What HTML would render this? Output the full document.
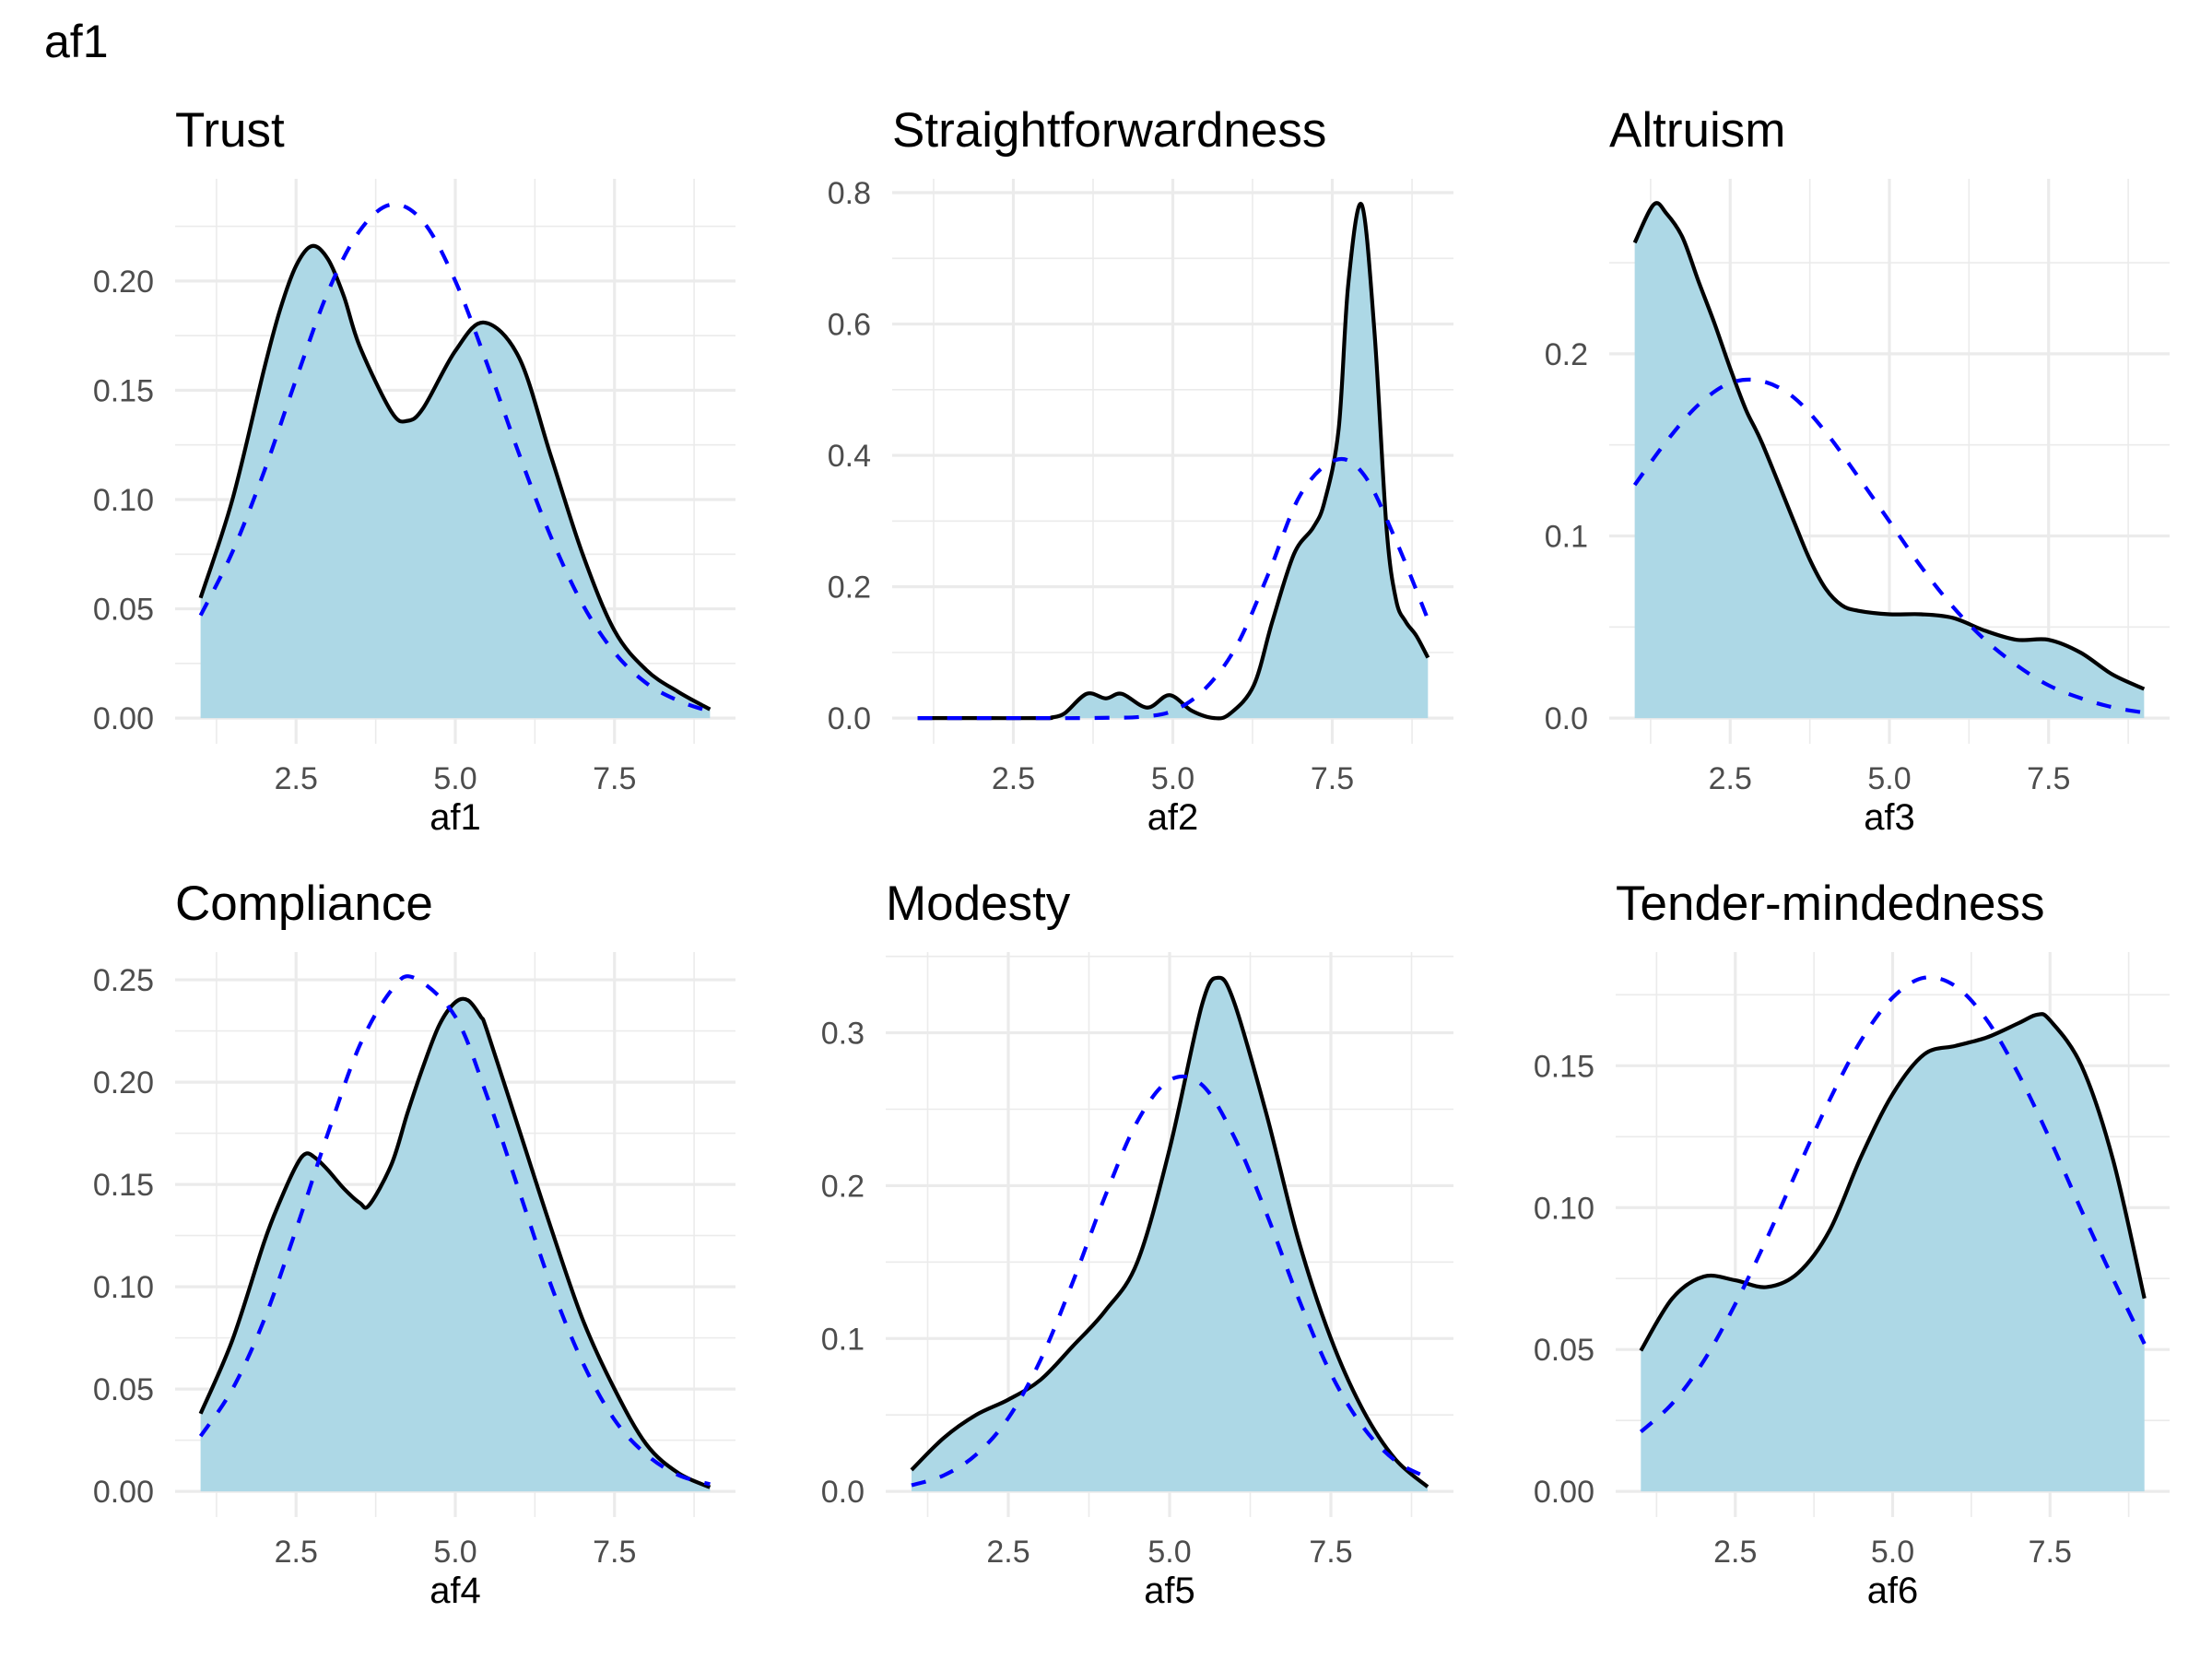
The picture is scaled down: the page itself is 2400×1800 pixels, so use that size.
<!DOCTYPE html>
<html><head><meta charset="utf-8">
<style>
html,body{margin:0;padding:0;background:#fff;}
svg{display:block;font-family:"Liberation Sans",Arial,sans-serif;}
</style></head>
<body>
<svg id="chart" width="2400" height="1800" viewBox="0 0 2400 1800" xmlns="http://www.w3.org/2000/svg">
<rect width="2400" height="1800" fill="#fff"/>
<text x="48" y="62" font-size="50" fill="#000">af1</text>
</svg>
<script>
// ---- data ----
const panelTitles = ["Trust","Straightforwardness","Altruism","Compliance","Modesty","Tender-mindedness"];
const axisTitles = ["af1","af2","af3","af4","af5","af6"];
const xTickValues = [2.5, 5.0, 7.5];
const xTickLabels = ["2.5","5.0","7.5"];

const p1DensX = [1,1.5,2,2.25,2.5,2.75,3,3.25,3.5,4,4.25,4.5,5,5.45,6,6.5,7,7.5,8,8.5,9];
const p1DensY = [0.055,0.10,0.16,0.187,0.207,0.216,0.21,0.193,0.17,0.14,0.136,0.142,0.168,0.181,0.165,0.12,0.075,0.04,0.022,0.012,0.004];
const p1NormX = [1,1.5,2,2.5,3,3.5,4,4.5,5,5.5,6,6.5,7,7.5,8,8.5,9];
const p1NormY = [0.047,0.076,0.113,0.155,0.195,0.223,0.235,0.227,0.200,0.162,0.121,0.083,0.052,0.030,0.016,0.008,0.003];
const p1Ticks = [0,0.05,0.10,0.15,0.20];
const p1TickLabels = ["0.00","0.05","0.10","0.15","0.20"];

const p2DensX = [1,2,3,3.1,3.3,3.65,3.95,4.2,4.6,4.95,5.3,5.65,5.9,6.27,6.56,6.9,7.2,7.38,7.6,7.75,7.96,8.16,8.35,8.5,8.65,8.82,9];
const p2DensY = [0,0,0,0.001,0.007,0.037,0.03,0.037,0.016,0.035,0.011,0.0,0.007,0.05,0.147,0.25,0.29,0.33,0.44,0.66,0.782,0.59,0.29,0.18,0.147,0.125,0.092];
const p2NormX = [1,2,3,3.5,4,4.5,5,5.5,6,6.5,7,7.55,8,8.5,9];
const p2NormY = [0,0,0,0,0.0005,0.002,0.011,0.044,0.11,0.22,0.34,0.393,0.37,0.27,0.15];
const p2Ticks = [0,0.2,0.4,0.6,0.8];
const p2TickLabels = ["0.0","0.2","0.4","0.6","0.8"];

const p3DensX = [1,1.3,1.5,1.75,2,2.25,2.5,2.75,3,3.5,3.75,4,4.25,4.5,5,5.5,6,6.5,7,7.5,8,8.5,9];
const p3DensY = [0.261,0.282,0.277,0.264,0.240,0.217,0.192,0.169,0.151,0.108,0.087,0.071,0.062,0.059,0.057,0.057,0.055,0.048,0.043,0.043,0.036,0.024,0.016];
const p3NormX = [1,1.5,2,2.5,3,3.5,4,4.5,5,5.5,6,6.5,7,7.5,8,8.5,9];
const p3NormY = [0.128,0.152,0.172,0.184,0.185,0.176,0.157,0.133,0.108,0.083,0.061,0.043,0.029,0.018,0.011,0.006,0.003];
const p3Ticks = [0,0.1,0.2];
const p3TickLabels = ["0.0","0.1","0.2"];

const p4DensX = [1,1.5,2,2.25,2.5,2.65,2.8,3,3.25,3.5,3.65,4,4.25,4.5,4.75,5,5.2,5.4,5.5,6,6.5,7,7.5,8,8.5,9];
const p4DensY = [0.038,0.074,0.122,0.142,0.159,0.165,0.163,0.157,0.148,0.141,0.14,0.16,0.185,0.208,0.228,0.239,0.24,0.232,0.225,0.177,0.129,0.084,0.05,0.023,0.009,0.002];
const p4NormX = [1,1.5,2,2.5,3,3.5,4,4.35,5,5.5,6,6.5,7,7.5,8,8.5,9];
const p4NormY = [0.027,0.05,0.084,0.128,0.175,0.218,0.245,0.251,0.232,0.193,0.147,0.101,0.063,0.035,0.018,0.008,0.0035];
const p4Ticks = [0,0.05,0.10,0.15,0.20,0.25];
const p4TickLabels = ["0.00","0.05","0.10","0.15","0.20","0.25"];

const p5DensX = [1,1.5,2,2.5,3,3.5,4,4.5,5,5.5,5.75,6,6.5,7,7.5,8,8.5,9];
const p5DensY = [0.014,0.035,0.05,0.06,0.073,0.095,0.118,0.15,0.224,0.318,0.336,0.32,0.247,0.164,0.1,0.053,0.021,0.003];
const p5NormX = [1,1.5,2,2.5,3,3.5,4,4.5,5,5.5,6,6.5,7,7.5,8,8.5,9];
const p5NormY = [0.004,0.0105,0.024,0.048,0.086,0.137,0.193,0.242,0.269,0.266,0.232,0.182,0.126,0.077,0.042,0.020,0.009];
const p5Ticks = [0,0.1,0.2,0.3];
const p5TickLabels = ["0.0","0.1","0.2","0.3"];

const p6DensX = [1,1.5,2,2.5,3,3.5,4,4.5,5,5.5,6,6.5,7,7.3,7.5,8,8.5,9];
const p6DensY = [0.0496,0.068,0.0757,0.0744,0.072,0.077,0.092,0.118,0.14,0.154,0.157,0.16,0.165,0.168,0.166,0.15,0.117,0.068];
const p6NormX = [1,1.5,2,2.5,3,3.5,4,4.5,5,5.5,6,6.5,7,7.5,8,8.5,9];
const p6NormY = [0.021,0.031,0.046,0.066,0.089,0.114,0.138,0.159,0.174,0.181,0.178,0.166,0.147,0.124,0.099,0.075,0.052];
const p6Ticks = [0,0.05,0.10,0.15];
const p6TickLabels = ["0.00","0.05","0.10","0.15"];

const densX = [p1DensX,p2DensX,p3DensX,p4DensX,p5DensX,p6DensX];
const densY = [p1DensY,p2DensY,p3DensY,p4DensY,p5DensY,p6DensY];
const normX = [p1NormX,p2NormX,p3NormX,p4NormX,p5NormX,p6NormX];
const normY = [p1NormY,p2NormY,p3NormY,p4NormY,p5NormY,p6NormY];
const yTicks = [p1Ticks,p2Ticks,p3Ticks,p4Ticks,p5Ticks,p6Ticks];
const yTickLabels = [p1TickLabels,p2TickLabels,p3TickLabels,p4TickLabels,p5TickLabels,p6TickLabels];

// ---- layout ----
const boxes = [
  {l:190,r:798,t:194},{l:968,r:1577,t:194},{l:1746,r:2354,t:194},
  {l:190,r:798,t:1033},{l:961,r:1577,t:1033},{l:1753,r:2354,t:1033}
];
const PH = 613;
const NS = "http://www.w3.org/2000/svg";
const svg = document.getElementById('chart');
function mk(tag, attrs, parent){
  const e = document.createElementNS(NS, tag);
  for (const k in attrs) e.setAttribute(k, attrs[k]);
  (parent||svg).appendChild(e);
  return e;
}
function smoothPath(pts){
  let d = "M"+pts[0][0].toFixed(2)+","+pts[0][1].toFixed(2);
  for (let i=0;i<pts.length-1;i++){
    const p0=pts[Math.max(0,i-1)], p1=pts[i], p2=pts[i+1], p3=pts[Math.min(pts.length-1,i+2)];
    const c1x=p1[0]+(p2[0]-p0[0])/6, c1y=p1[1]+(p2[1]-p0[1])/6;
    const c2x=p2[0]-(p3[0]-p1[0])/6, c2y=p2[1]-(p3[1]-p1[1])/6;
    d += " C"+c1x.toFixed(2)+","+c1y.toFixed(2)+" "+c2x.toFixed(2)+","+c2y.toFixed(2)+" "+p2[0].toFixed(2)+","+p2[1].toFixed(2);
  }
  return d;
}

for (let i=0;i<6;i++){
  const b = boxes[i];
  const bottom = b.t + PH;
  const xmin=0.6, xmax=9.4;
  const xs = v => b.l + (v - xmin)/(xmax - xmin)*(b.r - b.l);
  const ymax = Math.max(...densY[i], ...normY[i]);
  const s = PH/(1.1*ymax);
  const ys = v => bottom - 0.05*ymax*s - v*s;
  const g = mk('g', {});
  
  

  const tk = yTicks[i];
  const step = tk[1]-tk[0];
  for (let k=0;k<tk.length;k++){
    const mv = tk[k]+step/2;
    const yy = ys(mv);
    if (yy >= b.t) {
      const ml = mk('line',{x1:b.l,x2:b.r,y1:yy,y2:yy,stroke:'#EBEBEB','stroke-width':1.6},g);
      
      
    }
  }
  [1.25,3.75,6.25,8.75].forEach(v=>{
    const ml = mk('line',{x1:xs(v),x2:xs(v),y1:b.t,y2:bottom,stroke:'#EBEBEB','stroke-width':1.6},g);
    
    
  });
  tk.forEach((v,k)=>{
    const yy = ys(v);
    const gl = mk('line',{x1:b.l,x2:b.r,y1:yy,y2:yy,stroke:'#EBEBEB','stroke-width':3.2},g);
    
    
    const t = mk('text',{x:b.l-23,y:yy+12,'text-anchor':'end','font-size':34,fill:'#4D4D4D'},g);
    t.textContent = yTickLabels[i][k];
    
    
  });
  xTickValues.forEach((v,k)=>{
    const xx = xs(v);
    const gl = mk('line',{x1:xx,x2:xx,y1:b.t,y2:bottom,stroke:'#EBEBEB','stroke-width':3.2},g);
    
    
    const t = mk('text',{x:xx,y:bottom+49,'text-anchor':'middle','font-size':34,fill:'#4D4D4D'},g);
    t.textContent = xTickLabels[k];
    
    
  });

  const dp = densX[i].map((x,k)=>[xs(x), ys(densY[i][k])]);
  const line = smoothPath(dp);
  const area = line + " L"+xs(densX[i][densX[i].length-1]).toFixed(2)+","+ys(0).toFixed(2)+" L"+xs(densX[i][0]).toFixed(2)+","+ys(0).toFixed(2)+" Z";
  const fa = mk('path',{d:area,fill:'#ADD8E6',stroke:'none'},g);
  
  
  const dl = mk('path',{d:line,fill:'none',stroke:'#000','stroke-width':4.2,'stroke-linejoin':'round'},g);
  
  
  const np = normX[i].map((x,k)=>[xs(x), ys(normY[i][k])]);
  const nl = mk('path',{d:smoothPath(np),fill:'none',stroke:'#0000FF','stroke-width':4.2,'stroke-dasharray':'16 16'},g);
  
  

  const pt = mk('text',{x:b.l,y:b.t-35,'font-size':53,fill:'#000'},g);
  pt.textContent = panelTitles[i];
  
  
  const at = mk('text',{x:(b.l+b.r)/2,y:bottom+93,'text-anchor':'middle','font-size':40,fill:'#000'},g);
  at.textContent = axisTitles[i];
  
  
}
</script>
</body></html>
